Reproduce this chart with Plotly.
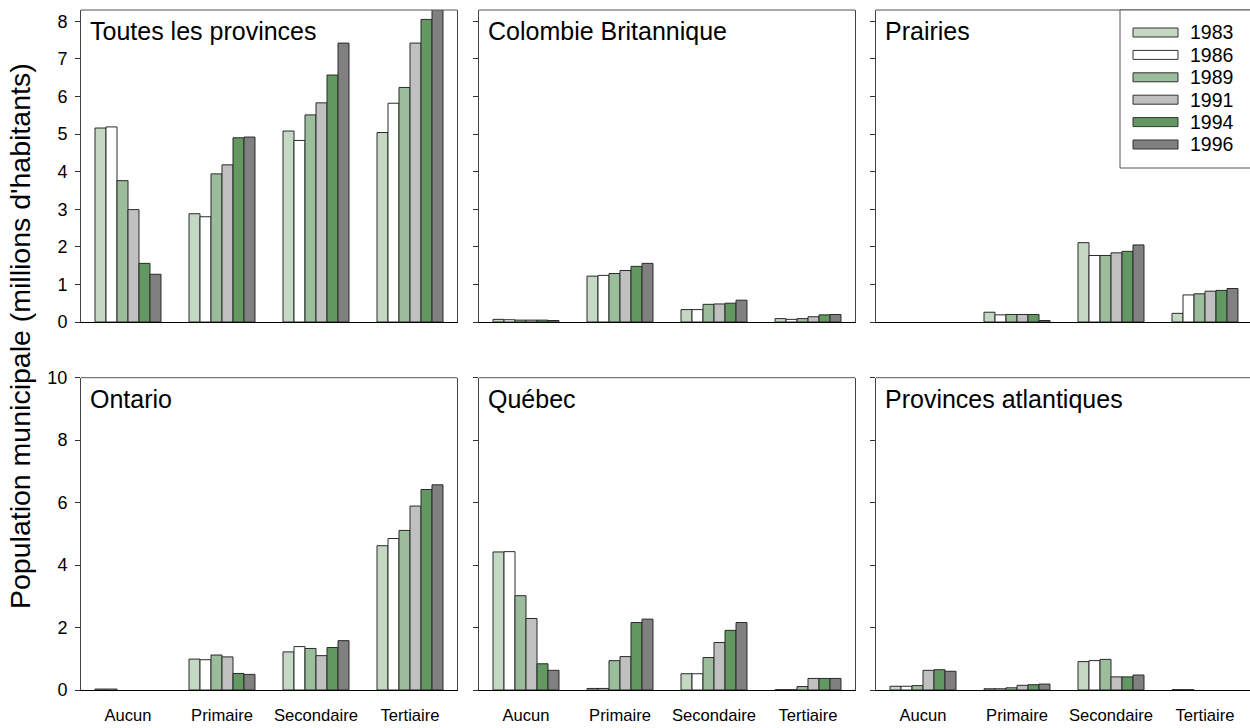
import plotly.graph_objects as go

# Education level categories and census years
categories = ["Aucun", "Primaire", "Secondaire", "Tertiaire"]
years = ["1983", "1986", "1989", "1991", "1994", "1996"]
year_colors = ["#c4d8c4", "#ffffff", "#9bbd9b", "#c0c0c0", "#639863", "#808080"]

# Municipal population (millions) per region: one list per year, values by category
toutes = [
    [5.16, 2.88, 5.08, 5.04],
    [5.19, 2.80, 4.83, 5.82],
    [3.76, 3.94, 5.51, 6.24],
    [2.99, 4.18, 5.83, 7.42],
    [1.56, 4.90, 6.57, 8.05],
    [1.27, 4.92, 7.42, 8.60],
]
colombie = [
    [0.07, 1.22, 0.33, 0.09],
    [0.06, 1.24, 0.33, 0.07],
    [0.05, 1.29, 0.47, 0.09],
    [0.05, 1.37, 0.48, 0.14],
    [0.05, 1.48, 0.50, 0.19],
    [0.04, 1.56, 0.58, 0.20],
]
prairies = [
    [None, 0.26, 2.11, 0.23],
    [None, 0.19, 1.77, 0.72],
    [None, 0.20, 1.77, 0.75],
    [None, 0.20, 1.84, 0.82],
    [None, 0.20, 1.88, 0.84],
    [None, 0.04, 2.05, 0.89],
]
ontario = [
    [0.03, 0.99, 1.22, 4.62],
    [0.03, 0.97, 1.39, 4.85],
    [None, 1.12, 1.33, 5.11],
    [None, 1.06, 1.10, 5.89],
    [None, 0.53, 1.36, 6.42],
    [None, 0.50, 1.58, 6.57],
]
quebec = [
    [4.42, 0.05, 0.52, 0.01],
    [4.43, 0.05, 0.52, 0.01],
    [3.02, 0.94, 1.04, 0.11],
    [2.29, 1.07, 1.52, 0.37],
    [0.84, 2.16, 1.91, 0.37],
    [0.63, 2.27, 2.16, 0.37],
]
atlantiques = [
    [0.12, 0.04, 0.91, 0.01],
    [0.12, 0.04, 0.94, 0.01],
    [0.14, 0.07, 0.98, None],
    [0.63, 0.15, 0.42, None],
    [0.65, 0.17, 0.42, None],
    [0.60, 0.19, 0.48, None],
]

region_names = ["Toutes les provinces", "Colombie Britannique", "Prairies",
                "Ontario", "Québec", "Provinces atlantiques"]
region_values = [toutes, colombie, prairies, ontario, quebec, atlantiques]

FONT = "Liberation Sans, Arial, sans-serif"
W, H = 1250, 728

# Panel geometry in pixels
col_left = [81, 479, 876]
col_right = [457, 855, 1250]
row_top = [10, 377.7]
row_bottom = [322, 690]
cat_px = 94.0  # pixels per category slot
y_max = [8.3, 10]

fig = go.Figure()
shapes = []
annotations = []

for i, (name, vals) in enumerate(zip(region_names, region_values)):
    r, c = divmod(i, 3)
    n = i + 1
    xa = "x" if n == 1 else f"x{n}"
    ya = "y" if n == 1 else f"y{n}"
    for k, yr in enumerate(years):
        fig.add_trace(go.Bar(
            x=categories, y=vals[k], name=yr,
            marker=dict(color=year_colors[k], line=dict(color="#2a2a2a", width=1)),
            xaxis=xa, yaxis=ya, showlegend=False,
        ))

    x0p, x1p = col_left[c], col_right[c]
    width_px = x1p - x0p
    x_range = [-0.5, -0.5 + width_px / cat_px]
    dom_x = [x0p / W, min(x1p / W, 1.0)]
    dom_y = [1 - row_bottom[r] / H, 1 - row_top[r] / H]

    xaxis = dict(
        domain=dom_x, anchor=ya, type="category", range=x_range,
        showline=True, linecolor="#000000", linewidth=1, mirror=False,
        ticks="", showgrid=False, zeroline=False, fixedrange=True,
        automargin=False,
        showticklabels=(r == 1), tickfont=dict(family=FONT, size=16.6, color="#000"),
        ticklabelstandoff=10,
    )
    if r == 0:
        ticks_y = list(range(0, 9))
    else:
        ticks_y = list(range(0, 11, 2))
    yaxis = dict(
        domain=dom_y, anchor=xa, range=[0, y_max[r]],
        showline=True, linecolor="#444444", linewidth=1, mirror=(c < 2),
        ticks="outside", ticklen=5, tickcolor="#333333", tickwidth=1,
        tickvals=ticks_y, ticktext=[str(t) for t in ticks_y],
        showticklabels=(c == 0), tickfont=dict(family=FONT, size=18, color="#000"),
        ticklabelstandoff=4, automargin=False,
        showgrid=False, zeroline=False, fixedrange=True,
    )
    fig.layout[("xaxis" if n == 1 else f"xaxis{n}")] = xaxis
    fig.layout[("yaxis" if n == 1 else f"yaxis{n}")] = yaxis

    # top frame line of the panel
    shapes.append(dict(
        type="line", xref="paper", yref="paper",
        x0=dom_x[0], x1=dom_x[1], y0=dom_y[1], y1=dom_y[1],
        line=dict(color="#555555", width=1), layer="above",
    ))

    # region title inside the panel
    annotations.append(dict(
        text=name, xref="paper", yref="paper",
        x=(x0p + 7) / W, y=1 - (row_top[r] + 21.5) / H,
        xanchor="left", yanchor="middle", showarrow=False,
        font=dict(family=FONT, size=25, color="#000"),
    ))

# Legend box with wide swatches
leg_x0, leg_x1, leg_y0, leg_y1 = 1120, 1252, 10, 168
shapes.append(dict(
    type="rect", xref="paper", yref="paper",
    x0=leg_x0 / W, x1=leg_x1 / W, y0=1 - leg_y1 / H, y1=1 - leg_y0 / H,
    line=dict(color="#555555", width=1), fillcolor="#ffffff", layer="above",
))
for k, (yr, col) in enumerate(zip(years, year_colors)):
    cy = 32.5 + k * 22.4
    shapes.append(dict(
        type="rect", xref="paper", yref="paper",
        x0=1133 / W, x1=1178 / W, y0=1 - (cy + 4.5) / H, y1=1 - (cy - 4.5) / H,
        line=dict(color="#333333", width=1), fillcolor=col, layer="above",
    ))
    annotations.append(dict(
        text=yr, xref="paper", yref="paper",
        x=1188 / W, y=1 - cy / H, xanchor="left", yanchor="middle",
        showarrow=False, font=dict(family=FONT, size=19.5, color="#000"),
    ))

# Shared y-axis title
annotations.append(dict(
    text="Population municipale (millions d'habitants)",
    xref="paper", yref="paper", x=20 / W, y=1 - 336 / H,
    xanchor="center", yanchor="middle", textangle=-90, showarrow=False,
    font=dict(family=FONT, size=28.5, color="#000"),
))

fig.update_layout(
    width=W, height=H,
    margin=dict(l=0, r=0, t=0, b=0, autoexpand=False),
    paper_bgcolor="#ffffff", plot_bgcolor="#ffffff",
    barmode="group", bargap=0.298, bargroupgap=0,
    shapes=shapes, annotations=annotations,
    showlegend=False,
    font=dict(family=FONT, color="#000"),
)

fig.write_html("out.html", config={"displayModeBar": False})
